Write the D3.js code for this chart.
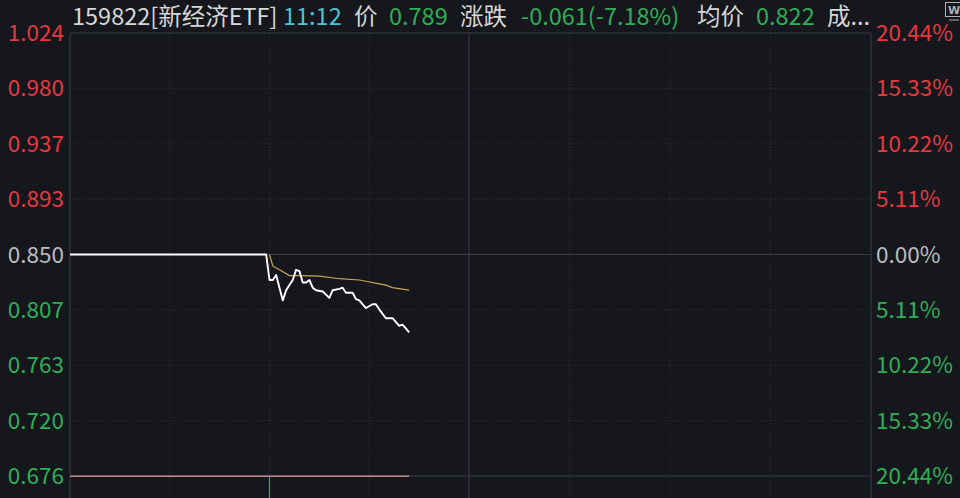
<!DOCTYPE html>
<html>
<head>
<meta charset="utf-8">
<script src="https://cdn.jsdelivr.net/npm/d3@7"></script>
<style>
  html, body { margin: 0; padding: 0; background: #15171c; overflow: hidden; }
  svg { display: block; }
</style>
</head>
<body>
<svg id="chart"></svg>
<script>
// pre-close and axis ticks
const preClose = 0.850;
const priceTicks = [1.024, 0.980, 0.937, 0.893, 0.850, 0.807, 0.763, 0.720, 0.676];
const pctTicks = ["20.44%", "15.33%", "10.22%", "5.11%", "0.00%", "5.11%", "10.22%", "15.33%", "20.44%"];

// minutes since 9:30 and last price
const priceMinutes = [0, 59, 60, 61, 62, 64, 65, 66, 67, 68, 69, 70, 71, 72, 73, 74, 76, 78, 79, 81, 82, 83, 85, 86, 87, 89, 91, 92, 93, 95, 97, 99, 100, 101, 102];
const priceValues  = [0.850, 0.850, 0.830, 0.830, 0.834, 0.814, 0.822, 0.826, 0.830, 0.838, 0.837, 0.828, 0.828, 0.830, 0.824, 0.822, 0.821, 0.816, 0.822, 0.823, 0.824, 0.820, 0.820, 0.815, 0.814, 0.808, 0.811, 0.811, 0.807, 0.800, 0.800, 0.794, 0.795, 0.792, 0.789];

// average price line
const avgMinutes = [60, 61, 63, 66, 69, 75, 81, 87, 89, 93, 95, 97, 101, 102];
const avgValues  = [0.850, 0.841, 0.838, 0.8335, 0.8335, 0.833, 0.831, 0.830, 0.829, 0.827, 0.826, 0.824, 0.8225, 0.822];

// limit-down line up to current time
const limitMinutes = [0, 102];
const limitValues = [0.676, 0.676];

// volume bars (only the opening one is visible)
const volMinutes = [60];
const volValues = [100];

// header
const headerParts = [
  { text: "159822[新经济ETF]", color: "#d6d6d6" },
  { text: "11:12", color: "#4cc3d3" },
  { text: "价", color: "#d6d6d6" },
  { text: "0.789", color: "#2fae55" },
  { text: "涨跌", color: "#d6d6d6" },
  { text: "-0.061(-7.18%)", color: "#2fae55" },
  { text: "均价", color: "#d6d6d6" },
  { text: "0.822", color: "#2fae55" },
  { text: "成...", color: "#d6d6d6" }
];
const headerX = [72, 283, 354, 389, 460, 521, 697, 756, 827];

const width = 960, height = 498;
const plotLeft = 70, plotRight = 871, plotTop = 33, plotBottom = 476;
const font = "'Noto Sans CJK SC', 'Noto Sans', sans-serif";
const red = "#e5383f", green = "#2fae55", grey = "#bdbdbd";

const svg = d3.select("#chart").attr("width", width).attr("height", height);
svg.append("rect").attr("width", width).attr("height", height).attr("fill", "#15171c");

const x = d3.scaleLinear().domain([0, 120, 240]).range([plotLeft, 469, plotRight]);
const y = d3.scaleLinear().domain([preClose * (1 - 0.2044), preClose * (1 + 0.2044)]).range([plotBottom, plotTop]);
const yVol = d3.scaleLinear().domain([0, 100]).range([plotBottom + 150, plotBottom]);
const rowY = i => plotTop + i * (plotBottom - plotTop) / 8;

// grid
const vGrid = [30, 60, 90, 150, 180, 210];
svg.selectAll(".vgrid").data(vGrid).enter().append("line")
  .attr("x1", d => x(d)).attr("x2", d => x(d))
  .attr("y1", plotTop).attr("y2", height)
  .attr("stroke", "#30333a").attr("stroke-dasharray", "1,2");

svg.selectAll(".hgrid").data(priceTicks).enter().append("line")
  .attr("x1", plotLeft).attr("x2", plotRight)
  .attr("y1", (d, i) => rowY(i))
  .attr("y2", (d, i) => rowY(i))
  .attr("stroke", (d, i) => (i === 0 || i === 4 || i === 8) ? "#3b3e45" : "#30333a")
  .attr("stroke-dasharray", (d, i) => (i === 0 || i === 4 || i === 8) ? null : "1,2");

// borders
[0, 120, 240].forEach(m => {
  svg.append("line")
    .attr("x1", x(m)).attr("x2", x(m))
    .attr("y1", plotTop).attr("y2", height)
    .attr("stroke", "#3b3e45");
});

// left price labels
svg.selectAll(".ylab").data(priceTicks).enter().append("text")
  .attr("x", plotLeft - 6)
  .attr("y", (d, i) => rowY(i))
  .attr("dy", "0.36em")
  .attr("text-anchor", "end")
  .attr("font-family", font).attr("font-size", 22.5)
  .attr("fill", d => d > preClose ? red : d < preClose ? green : grey)
  .text(d => d.toFixed(3));

// right pct labels
svg.selectAll(".plab").data(pctTicks).enter().append("text")
  .attr("x", plotRight + 5)
  .attr("y", (d, i) => rowY(i))
  .attr("dy", "0.36em")
  .attr("font-family", font).attr("font-size", 22.5)
  .attr("fill", (d, i) => i < 4 ? red : i > 4 ? green : grey)
  .text(d => d);

// limit line
const limitData = limitMinutes.map((m, i) => ({ m, v: limitValues[i] }));
svg.append("path").datum(limitData)
  .attr("fill", "none").attr("stroke", "#c08a8c").attr("stroke-width", 1.5)
  .attr("d", d3.line().x(d => x(d.m)).y(d => y(d.v)));

// volume
svg.selectAll(".vol").data(volMinutes).enter().append("line")
  .attr("x1", d => x(d)).attr("x2", d => x(d))
  .attr("y1", yVol(0)).attr("y2", (d, i) => yVol(volValues[i]))
  .attr("stroke", "#2fae55").attr("stroke-width", 1.2);

// average line
const avgData = avgMinutes.map((m, i) => ({ m, v: avgValues[i] }));
svg.append("path").datum(avgData)
  .attr("fill", "none").attr("stroke", "#c9a458").attr("stroke-width", 1.2)
  .attr("d", d3.line().x(d => x(d.m)).y(d => y(d.v)));

// price line
const priceData = priceMinutes.map((m, i) => ({ m, v: priceValues[i] }));
svg.append("path").datum(priceData)
  .attr("fill", "none").attr("stroke", "#ffffff").attr("stroke-width", 1.9)
  .attr("stroke-linejoin", "round")
  .attr("d", d3.line().x(d => x(d.m)).y(d => y(d.v)));

// header
svg.selectAll(".hdr").data(headerParts).enter().append("text")
  .attr("x", (d, i) => headerX[i])
  .attr("y", 25)
  .attr("font-family", font).attr("font-size", 23.5)
  .attr("fill", d => d.color)
  .text(d => d.text);

// small W icon at top-right
const icon = svg.append("g").attr("transform", "translate(945,2)");
icon.append("rect").attr("x", 0.5).attr("y", 0.5).attr("width", 17).attr("height", 14)
  .attr("fill", "none").attr("stroke", "#b0b0b0");
icon.append("text").attr("x", 3).attr("y", 12).attr("font-family", "DejaVu Sans")
  .attr("font-size", 11).attr("font-weight", "bold").attr("fill", "#b0b0b0").text("W");
icon.append("line").attr("x1", 4).attr("x2", 14).attr("y1", 18).attr("y2", 18).attr("stroke", "#b0b0b0");
</script>
</body>
</html>
